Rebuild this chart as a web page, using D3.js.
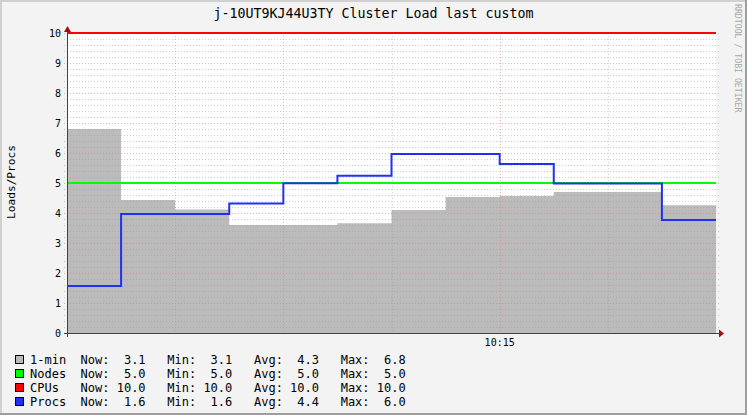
<!DOCTYPE html>
<html><head><meta charset="utf-8">
<script src="https://cdn.jsdelivr.net/npm/d3@7"></script>
<style>
html,body{margin:0;padding:0;background:#f3f3f3;}
svg{display:block;}
text{font-family:"DejaVu Sans Mono",monospace;}
</style></head><body>
<svg id="c" width="747" height="415"></svg>
<script>
// ---- data ----
const stepTimes = ["10:11:00","10:11:30","10:12:00","10:12:30","10:13:00","10:13:30","10:14:00","10:14:30","10:15:00","10:15:30","10:16:00","10:16:30"];
const endTime = "10:17:00";
const load1 = [6.8, 4.43, 4.12, 3.6, 3.6, 3.66, 4.1, 4.53, 4.57, 4.7, 4.7, 4.26];
const nodes = [5, 5, 5, 5, 5, 5, 5, 5, 5, 5, 5, 5];
const cpus = [10, 10, 10, 10, 10, 10, 10, 10, 10, 10, 10, 10];
const procs = [1.57, 3.97, 3.97, 4.32, 4.99, 5.24, 5.97, 5.97, 5.63, 4.98, 4.98, 3.77];
const yTicks = [0, 1, 2, 3, 4, 5, 6, 7, 8, 9, 10];
const xLabels = ["10:15"];
const legendRows = [
  {name:"1-min", color:"#bbbbbb", text:"1-min  Now:  3.1   Min:  3.1   Avg:  4.3   Max:  6.8"},
  {name:"Nodes", color:"#00ff00", text:"Nodes  Now:  5.0   Min:  5.0   Avg:  5.0   Max:  5.0"},
  {name:"CPUs",  color:"#ff0000", text:"CPUs   Now: 10.0   Min: 10.0   Avg: 10.0   Max: 10.0"},
  {name:"Procs", color:"#2030f4", text:"Procs  Now:  1.6   Min:  1.6   Avg:  4.4   Max:  6.0"}
];
const title = "j-10UT9KJ44U3TY Cluster Load last custom";
const yTitle = "Loads/Procs";
const watermark = "RRDTOOL / TOBI OETIKER";

// ---- drawing ----
const parse = s => { const [h,m,sec] = s.split(":").map(Number); return new Date(2024,0,1,h,m,sec); };
const svg = d3.select("#c");
const L = 67, R = 716, T = 33, B = 333;
const x = d3.scaleTime().domain([parse(stepTimes[0]), parse(endTime)]).range([L, R]);
const y = d3.scaleLinear().domain([0, 10]).range([B, T]);

// frame
svg.append("rect").attr("x",0).attr("y",0).attr("width",747).attr("height",415).attr("fill","#f3f3f3");
svg.append("rect").attr("x",0).attr("y",0).attr("width",747).attr("height",2).attr("fill","#d0d0d0");
svg.append("rect").attr("x",0).attr("y",0).attr("width",2).attr("height",415).attr("fill","#d0d0d0");
svg.append("rect").attr("x",745).attr("y",0).attr("width",2).attr("height",415).attr("fill","#9e9e9e");
svg.append("rect").attr("x",0).attr("y",413).attr("width",747).attr("height",2).attr("fill","#9e9e9e");

// plot bg
svg.append("rect").attr("x",L).attr("y",T).attr("width",R-L).attr("height",B-T).attr("fill","#ffffff");

const mk = arr => stepTimes.map((t,i)=>({t:parse(t), v:arr[i]})).concat([{t:parse(endTime), v:arr[arr.length-1]}]);

// area
const area = d3.area().x(d=>x(d.t)).y0(y(0)).y1(d=>y(d.v)).curve(d3.curveStepAfter);
svg.append("path").datum(mk(load1)).attr("d", area).attr("fill","#bbbbbb");

// grid: minor horizontal
const g = svg.append("g").attr("shape-rendering","crispEdges");
d3.range(0, 10.001, 0.2).forEach(v => {
  const major = Math.abs(v - Math.round(v)) < 1e-6;
  if (v < 0.01) return;
  g.append("line").attr("x1",L-3).attr("x2",R+3).attr("y1",Math.round(y(v))+0.5).attr("y2",Math.round(y(v))+0.5)
    .attr("stroke", major ? "rgba(220,120,120,0.55)" : "rgba(150,150,150,0.45)")
    .attr("stroke-dasharray","1,2");
});
// vertical grid
const minuteTicks = x.ticks(d3.timeMinute.every(1)).filter(d => d > x.domain()[0] && d < x.domain()[1]);
minuteTicks.forEach(d => {
  const major = d3.timeFormat("%H:%M")(d) === xLabels[0];
  g.append("line").attr("x1",Math.round(x(d))+0.5).attr("x2",Math.round(x(d))+0.5).attr("y1",T).attr("y2",B+3)
    .attr("stroke", major ? "rgba(220,120,120,0.55)" : "rgba(150,150,150,0.45)")
    .attr("stroke-dasharray","1,2");
});

// lines
const line = d3.line().x(d=>x(d.t)).y(d=>y(d.v)).curve(d3.curveStepAfter);
svg.append("path").datum(mk(nodes)).attr("d", line).attr("fill","none").attr("stroke","#00ff00").attr("stroke-width",2);
svg.append("path").datum(mk(cpus)).attr("d", line).attr("fill","none").attr("stroke","#ff0000").attr("stroke-width",2);
svg.append("path").datum(mk(procs)).attr("d", line).attr("fill","none").attr("stroke","#2030f4").attr("stroke-width",2);

// axes lines
const ax = svg.append("g").attr("shape-rendering","crispEdges");
ax.append("line").attr("x1",L-3).attr("x2",R+4).attr("y1",B+0.5).attr("y2",B+0.5).attr("stroke","#404040");
ax.append("line").attr("x1",L+0.5).attr("x2",L+0.5).attr("y1",T-3).attr("y2",B+4).attr("stroke","#404040");
svg.append("path").attr("d",`M${R+3},${B-3.5} L${R+8},${B+0.5} L${R+3},${B+4.5} Z`).attr("fill","#a01010");
svg.append("path").attr("d",`M${L-3},${T-1} L${L+0.5},${T-7} L${L+4},${T-1} Z`).attr("fill","#a01010");

// y tick labels
yTicks.forEach(v => {
  svg.append("text").attr("x", L-6).attr("y", y(v)+3.5).attr("text-anchor","end")
    .attr("font-size","10px").attr("fill","#000").text(d3.format("d")(v));
});
// x tick labels
xLabels.forEach(lbl => {
  const d = parse(lbl + ":00");
  svg.append("text").attr("x", x(d)).attr("y", B+13).attr("text-anchor","middle")
    .attr("font-size","10px").attr("fill","#000").text(lbl);
});

// title
svg.append("text").attr("x", 373.5).attr("y", 18).attr("text-anchor","middle")
  .attr("font-size","13.3px").attr("fill","#000").text(title);
// y title
svg.append("text").attr("transform","translate(15,182) rotate(-90)").attr("text-anchor","middle")
  .attr("font-size","11.2px").attr("fill","#000").text(yTitle);
// watermark
svg.append("text").attr("transform","translate(734.5,4) rotate(90)").attr("text-anchor","start")
  .attr("font-size","8.2px").attr("fill","#a8a8a8").text(watermark);

// legend
legendRows.forEach((r,i) => {
  const yy = 355 + i*14;
  svg.append("rect").attr("x",15.5).attr("y",yy+0.5).attr("width",8).attr("height",8)
    .attr("fill", r.color).attr("stroke","#000").attr("stroke-width",1);
  svg.append("text").attr("x",30).attr("y",yy+8.5).attr("font-size","12px").attr("fill","#000")
    .attr("xml:space","preserve").style("white-space","pre").text(r.text);
});
</script>
</body></html>
